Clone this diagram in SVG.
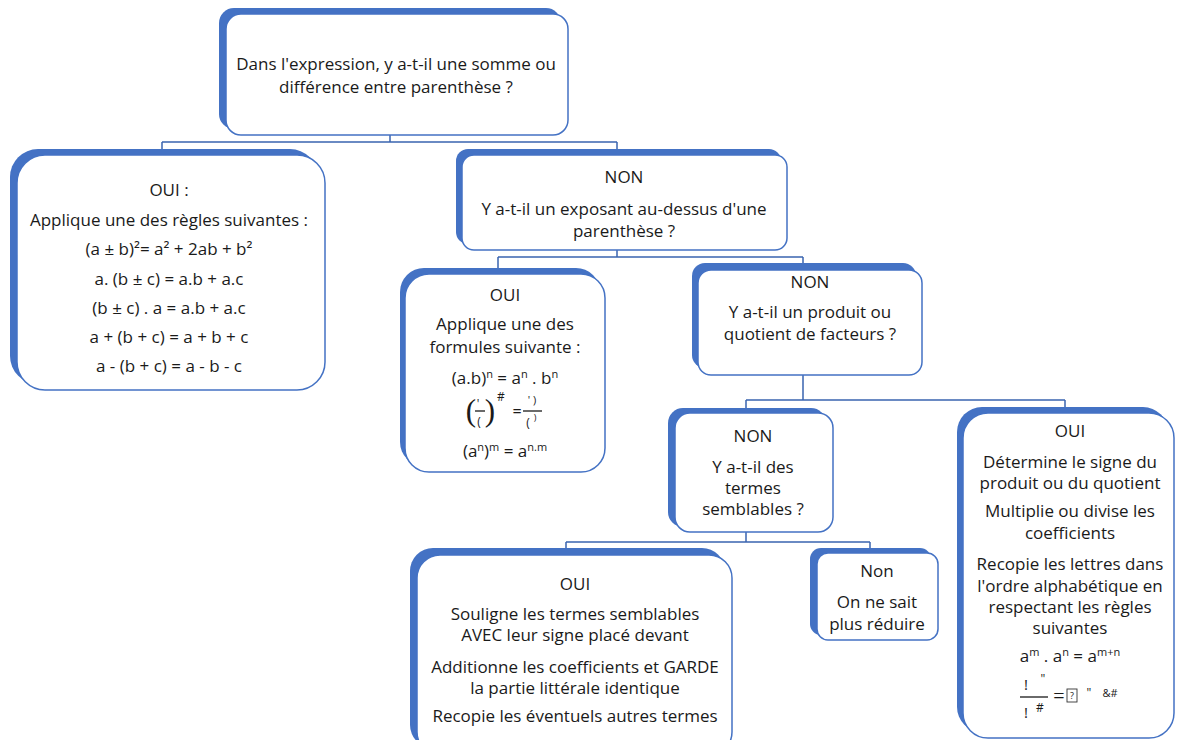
<svg xmlns="http://www.w3.org/2000/svg" width="1177" height="740" viewBox="0 0 1177 740">
  <style>
    .back { fill: #4472C4; }
    .front { fill: #ffffff; stroke: #4472C4; stroke-width: 1.5; }
    .t { font-family: "Open Sans", "Liberation Sans", sans-serif; font-size: 17px; fill: #1a1a1a; text-anchor: middle; }
    .s { font-size: 11px; }
    .m { font-family: "Open Sans", "Liberation Sans", sans-serif; fill: #1a1a1a; text-anchor: middle; }
    .ms { font-family: "Liberation Serif", serif; fill: #1a1a1a; text-anchor: middle; }
    .bar { stroke: #1a1a1a; stroke-width: 1.3; }
    .conn { fill: none; stroke: #3A64B0; stroke-width: 1.5; }
  </style>
  <rect width="1177" height="740" fill="#ffffff"/>

  <!-- connectors -->
  <g id="connectors">
    <path class="conn" d="M390,135 V142 M162,142 H617 M162,142 V149 M617,142 V149"/>
    <path class="conn" d="M617,250 V257 M498,257 H803 M498,257 V268 M803,257 V264"/>
    <path class="conn" d="M803,375 V400 M746,400 H1065 M746,400 V408 M1065,400 V407"/>
    <path class="conn" d="M746,532 V542 M566,542 H870 M566,542 V548 M870,542 V548"/>
  </g>

  <!-- question: sum or difference inside parentheses -->
  <g id="q-parenthese">
    <rect class="back" x="219" y="8" width="342" height="121" rx="15"/>
    <rect class="front" x="226" y="14" width="342" height="121" rx="15"/>
    <text class="t" x="396" y="70">Dans l'expression, y a-t-il une somme ou</text>
    <text class="t" x="396" y="93">différence entre parenthèse ?</text>
  </g>

  <!-- yes: distributivity rules -->
  <g id="oui-regles">
    <rect class="back" x="10" y="149" width="308" height="235" rx="28"/>
    <rect class="front" x="17" y="155" width="308" height="235" rx="28"/>
    <text class="t" x="169" y="196">OUI :</text>
    <text class="t" x="169" y="226">Applique une des règles suivantes :</text>
    <text class="t" x="169" y="255">(a ± b)²= a² + 2ab + b²</text>
    <text class="t" x="169" y="285">a. (b ± c) = a.b + a.c</text>
    <text class="t" x="169" y="314">(b ± c) . a = a.b + a.c</text>
    <text class="t" x="169" y="343">a + (b + c) = a + b + c</text>
    <text class="t" x="169" y="372">a - (b + c) = a - b - c</text>
  </g>

  <!-- no: exponent above a parenthesis? -->
  <g id="non-exposant">
    <rect class="back" x="456" y="149" width="325" height="95" rx="12"/>
    <rect class="front" x="462" y="155" width="325" height="95" rx="12"/>
    <text class="t" x="624" y="183">NON</text>
    <text class="t" x="624" y="215">Y a-t-il un exposant au-dessus d'une</text>
    <text class="t" x="624" y="237">parenthèse ?</text>
  </g>

  <!-- yes: power formulas -->
  <g id="oui-formules">
    <rect class="back" x="400" y="268" width="200" height="198" rx="24"/>
    <rect class="front" x="405" y="274" width="200" height="198" rx="24"/>
    <text class="t" x="505" y="301">OUI</text>
    <text class="t" x="505" y="330">Applique une des</text>
    <text class="t" x="505" y="353">formules suivante :</text>
    <text class="t" x="505" y="384">(a.b)<tspan class="s" dy="-6">n</tspan><tspan dy="6"> = a</tspan><tspan class="s" dy="-6">n</tspan><tspan dy="6"> . b</tspan><tspan class="s" dy="-6">n</tspan></text>
    <!-- quotient raised to a power -->
    <text class="ms" x="471" y="421" font-size="31">(</text>
    <text class="m" x="478" y="408" font-size="12">'</text>
    <line class="bar" x1="475" y1="411" x2="485" y2="411"/>
    <text class="m" x="479" y="426" font-size="12">(</text>
    <text class="ms" x="490" y="421" font-size="31">)</text>
    <text class="m" x="501" y="401" font-size="12">#</text>
    <text class="m" x="517" y="417" font-size="16">=</text>
    <text class="m" x="532" y="404" font-size="11">' )</text>
    <line class="bar" x1="523" y1="411" x2="542" y2="411"/>
    <text class="m" x="528" y="427" font-size="12">(</text>
    <text class="m" x="535" y="421" font-size="9">)</text>
    <text class="t" x="505" y="457">(a<tspan class="s" dy="-6">n</tspan><tspan dy="6">)</tspan><tspan class="s" dy="-6">m</tspan><tspan dy="6"> = a</tspan><tspan class="s" dy="-6">n.m</tspan></text>
  </g>

  <!-- no: product or quotient of factors? -->
  <g id="non-produit">
    <rect class="back" x="692" y="263" width="224" height="105" rx="13"/>
    <rect class="front" x="698" y="270" width="224" height="105" rx="13"/>
    <text class="t" x="810" y="288">NON</text>
    <text class="t" x="810" y="318">Y a-t-il un produit ou</text>
    <text class="t" x="810" y="340">quotient de facteurs ?</text>
  </g>

  <!-- no: like terms? -->
  <g id="non-semblables">
    <rect class="back" x="668" y="408" width="158" height="119" rx="15"/>
    <rect class="front" x="675" y="413" width="158" height="119" rx="15"/>
    <text class="t" x="753" y="442">NON</text>
    <text class="t" x="753" y="473">Y a-t-il des</text>
    <text class="t" x="753" y="494">termes</text>
    <text class="t" x="753" y="515">semblables ?</text>
  </g>

  <!-- yes: product / quotient steps -->
  <g id="oui-produit">
    <rect class="back" x="957" y="407" width="211" height="325" rx="25"/>
    <rect class="front" x="963" y="413" width="211" height="325" rx="25"/>
    <text class="t" x="1070" y="437">OUI</text>
    <text class="t" x="1070" y="468">Détermine le signe du</text>
    <text class="t" x="1070" y="489">produit ou du quotient</text>
    <text class="t" x="1070" y="517">Multiplie ou divise les</text>
    <text class="t" x="1070" y="539">coefficients</text>
    <text class="t" x="1070" y="570">Recopie les lettres dans</text>
    <text class="t" x="1070" y="592">l'ordre alphabétique en</text>
    <text class="t" x="1070" y="613">respectant les règles</text>
    <text class="t" x="1070" y="634">suivantes</text>
    <text class="t" x="1070" y="662">a<tspan class="s" dy="-6">m</tspan><tspan dy="6"> . a</tspan><tspan class="s" dy="-6">n</tspan><tspan dy="6"> = a</tspan><tspan class="s" dy="-6">m+n</tspan></text>
    <!-- quotient of powers -->
    <text class="m" x="1026" y="690" font-size="15">!</text>
    <text class="m" x="1043" y="683" font-size="12">"</text>
    <line class="bar" x1="1020" y1="697" x2="1048" y2="697"/>
    <text class="m" x="1026" y="718" font-size="15">!</text>
    <text class="m" x="1040" y="712" font-size="12">#</text>
    <text class="ms" x="1059" y="703" font-size="20">=</text>
    <rect x="1067" y="689" width="10" height="13" fill="none" stroke="#333333" stroke-width="0.9"/>
    <text class="m" x="1072" y="699" font-size="9">?</text>
    <text class="m" x="1089" y="697" font-size="12">"</text>
    <text class="m" x="1110" y="697" font-size="11">&amp;#</text>
  </g>

  <!-- yes: combine like terms -->
  <g id="oui-semblables">
    <rect class="back" x="410" y="548" width="315" height="200" rx="23"/>
    <rect class="front" x="417" y="555" width="315" height="200" rx="23"/>
    <text class="t" x="575" y="590">OUI</text>
    <text class="t" x="575" y="620">Souligne les termes semblables</text>
    <text class="t" x="575" y="641">AVEC leur signe placé devant</text>
    <text class="t" x="575" y="673">Additionne les coefficients et GARDE</text>
    <text class="t" x="575" y="694">la partie littérale identique</text>
    <text class="t" x="575" y="722">Recopie les éventuels autres termes</text>
  </g>

  <!-- no: cannot reduce further -->
  <g id="non-reduire">
    <rect class="back" x="810" y="548" width="121" height="87" rx="11"/>
    <rect class="front" x="817" y="553" width="121" height="87" rx="11"/>
    <text class="t" x="877" y="577">Non</text>
    <text class="t" x="877" y="608">On ne sait</text>
    <text class="t" x="877" y="630">plus réduire</text>
  </g>
</svg>
